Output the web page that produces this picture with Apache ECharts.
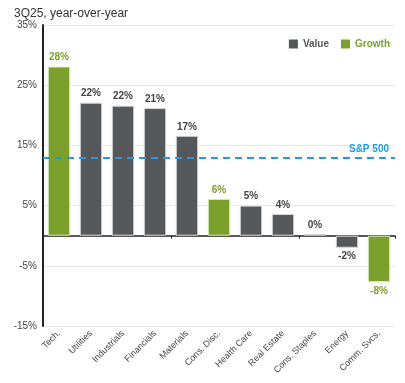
<!DOCTYPE html>
<html><head><meta charset="utf-8">
<script src="https://cdn.jsdelivr.net/npm/echarts@6/dist/echarts.min.js"></script>
<style>html,body{margin:0;padding:0;background:#fff}#c{width:405px;height:383px}</style>
</head><body><div id="c"></div>
<script>
const categories = ['Tech.','Utilities','Industrials','Financials','Materials','Cons. Disc.','Health Care','Real Estate','Cons. Staples','Energy','Comm. Svcs.'];
const valueSeries = [null, 22.1, 21.6, 21.2, 16.6, null, 5.0, 3.6, 0.3, -2.0, null];
const growthSeries = [28.1, null, null, null, null, 6.1, null, null, null, null, -7.7];
const sp500 = 13;
const yTicks = [-15, -5, 5, 15, 25, 35];

const GRAY = '#54585b', GREEN = '#7ba02c', BLUE = '#1e9be8';
function items(arr){
  return arr.map(v => v === null ? null : {value: v, label: {position: v < 0 ? 'bottom' : 'top'}});
}
const chart = echarts.init(document.getElementById('c'), null, {renderer:'canvas'});
const labelFmt = p => Math.round(p.value) + '%';
chart.setOption({
  animation: false,
  textStyle: {fontFamily: 'Liberation Sans, Arial, sans-serif'},
  title: {text: '3Q25, year-over-year', left: 9, top: 3,
    textStyle: {fontSize: 12, fontWeight: 'normal', color: '#333'}},
  legend: {right: 10, top: 34, itemWidth: 9, itemHeight: 9, itemGap: 12,
    icon: 'rect', itemStyle: {borderWidth: 0},
    textStyle: {fontSize: 10, fontWeight: 'bold'},
    data: [{name: 'Value', textStyle: {color: '#555'}}, {name: 'Growth', textStyle: {color: GREEN}}]},
  grid: {left: 43, right: 10, top: 25, bottom: 57, containLabel: false},
  xAxis: [
    {type: 'category', data: categories, axisLine: {onZero: true, lineStyle: {color: '#222', width: 1.5}},
     axisTick: {show: true, length: 3, lineStyle: {color: '#222'}}, axisLabel: {show: false}},
    {type: 'category', data: categories, position: 'bottom', axisLine: {show: false, onZero: false},
     axisTick: {show: false},
     axisLabel: {rotate: 45, fontSize: 9, color: '#444', margin: 6, interval: 0}}
  ],
  yAxis: {type: 'value', min: yTicks[0], max: yTicks[yTicks.length-1], interval: 10,
    axisLine: {show: true, lineStyle: {color: '#222', width: 2}},
    axisTick: {show: false},
    splitLine: {lineStyle: {color: '#e8e8e8'}},
    axisLabel: {fontSize: 10, color: '#444', margin: 6, formatter: v => v + '%'}},
  series: [
    {name: 'Value', type: 'bar', xAxisIndex: 0, data: items(valueSeries), barWidth: '70%', barGap: '-100%',
     itemStyle: {color: GRAY, borderColor: '#d8d8d8', borderWidth: 1},
     label: {show: true, fontSize: 10, fontWeight: 'bold', color: '#444', distance: 4, formatter: labelFmt},
     markLine: {silent: true, symbol: 'none', data: [{yAxis: sp500}],
       lineStyle: {color: BLUE, type: [7, 5], width: 2},
       label: {show: true, position: 'insideEndTop', formatter: 'S&P 500', color: BLUE,
         fontSize: 10, fontWeight: 'bold', distance: [6, 3]}}},
    {name: 'Growth', type: 'bar', xAxisIndex: 0, data: items(growthSeries), barWidth: '70%', barGap: '-100%',
     itemStyle: {color: GREEN, borderColor: '#d8e8c0', borderWidth: 1},
     label: {show: true, fontSize: 10, fontWeight: 'bold', color: GREEN, distance: 4, formatter: labelFmt}}
  ]
});
</script></body></html>
